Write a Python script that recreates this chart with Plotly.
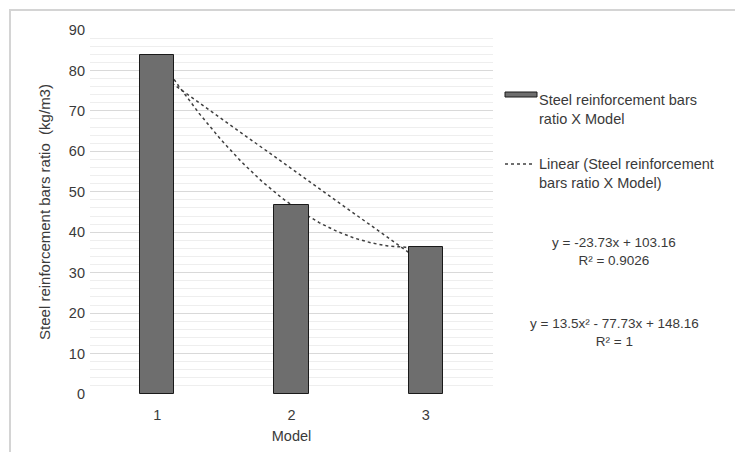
import numpy as np
import plotly.graph_objects as go

# ---- data ----
models = [1, 2, 3]
tick_labels = ["1", "2", "3"]
steel_ratio = [83.93, 46.70, 36.47]
linear_coef = [-23.73, 103.16]          # y = a x + b
poly_coef = [13.5, -77.73, 148.16]      # y = a x^2 + b x + c
eq_linear = "y = -23.73x + 103.16"
r2_linear = "R² = 0.9026"
eq_poly = "y = 13.5x² - 77.73x + 148.16"
r2_poly = "R² = 1"
series_name = "Steel reinforcement bars<br>ratio X Model"
trend_name = "Linear (Steel reinforcement<br>bars ratio X Model)"

FONT = "Liberation Sans"
TXT = "#3a3a3a"

xs = np.linspace(min(models), max(models), 200)
y_lin = np.polyval(linear_coef, xs)
y_poly = np.polyval(poly_coef, xs)

fig = go.Figure()
fig.add_trace(go.Scatter(x=xs, y=y_lin, mode="lines", zorder=0,
                         line=dict(color="#404040", width=1.5, dash="dot"),
                         showlegend=False, hoverinfo="skip"))
fig.add_trace(go.Scatter(x=xs, y=y_poly, mode="lines", zorder=0,
                         line=dict(color="#404040", width=1.5, dash="dot"),
                         showlegend=False, hoverinfo="skip"))
fig.add_trace(go.Bar(x=models, y=steel_ratio, width=0.255, zorder=1,
                     marker=dict(color="#6e6e6e", line=dict(color="#1a1a1a", width=1)),
                     showlegend=False))

# page body has an 8px margin; work in screen pixels and convert
O = 8
W, H = 743 - O, 452 - O
L, R, T, B = 90, 493, 30, 394   # plot area in screen pixels
def px(x):
    return (x - L) / (R - L)
def py(y):
    return (B - y) / (B - T)

shapes = [
    dict(type="rect", xref="paper", yref="paper",
         x0=px(10), x1=px(760), y0=py(470), y1=py(10),
         line=dict(color="#d4d4d4", width=2), fillcolor="rgba(0,0,0,0)", layer="below"),
    # legend symbols
    dict(type="rect", xref="paper", yref="paper",
         x0=px(505), x1=px(537), y0=py(97), y1=py(92),
         line=dict(color="#1a1a1a", width=1), fillcolor="#6e6e6e"),
    dict(type="line", xref="paper", yref="paper",
         x0=px(505), x1=px(535), y0=py(164), y1=py(164),
         line=dict(color="#404040", width=1.5, dash="dot")),
]

annotations = [
    dict(xref="paper", yref="paper", x=px(537), y=py(109), xanchor="left", yanchor="middle",
         text=series_name, showarrow=False, align="left",
         font=dict(family=FONT, size=14.5, color=TXT)),
    dict(xref="paper", yref="paper", x=px(537), y=py(173), xanchor="left", yanchor="middle",
         text=trend_name, showarrow=False, align="left",
         font=dict(family=FONT, size=14.5, color=TXT)),
    dict(xref="paper", yref="paper", x=px(614), y=py(251), xanchor="center", yanchor="middle",
         text=eq_linear + "<br>" + r2_linear, showarrow=False, align="center",
         font=dict(family=FONT, size=13.5, color=TXT)),
    dict(xref="paper", yref="paper", x=px(614), y=py(332), xanchor="center", yanchor="middle",
         text=eq_poly + "<br>" + r2_poly, showarrow=False, align="center",
         font=dict(family=FONT, size=13.5, color=TXT)),
]

fig.update_layout(
    width=W, height=H,
    margin=dict(l=L - O, r=743 - R, t=T - O, b=452 - B),
    plot_bgcolor="white", paper_bgcolor="white",
    font=dict(family=FONT, size=14, color=TXT),
    shapes=shapes, annotations=annotations,
    showlegend=False,
    bargap=0,
)
fig.update_xaxes(range=[0.5, 3.5], tickmode="array", tickvals=models, ticktext=tick_labels,
                 showgrid=False, zeroline=False, showline=False, ticks="", automargin=False,
                 ticklabelstandoff=10,
                 title=dict(text="Model", standoff=9, font=dict(size=14.5, color=TXT)),
                 tickfont=dict(size=14.5, color=TXT))
fig.update_yaxes(range=[0, 90], dtick=10, showgrid=True, gridcolor="#d9d9d9", gridwidth=1,
                 zeroline=False, showline=False, ticks="", ticklabelstandoff=4, automargin=False,
                 minor=dict(dtick=2, showgrid=True, gridcolor="#eeeeee", gridwidth=1),
                 title=dict(text="Steel reinforcement bars ratio  (kg/m3)", standoff=14,
                            font=dict(size=15, color=TXT)),
                 tickfont=dict(size=14.5, color=TXT))

fig.write_html("out.html")
